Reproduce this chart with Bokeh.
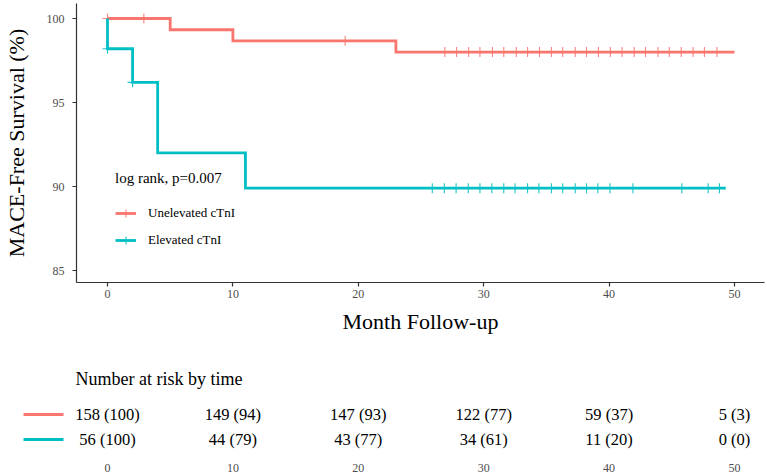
from bokeh.plotting import figure
from bokeh.models import Range1d, FixedTicker, Legend, LegendItem, Label
from bokeh.embed import file_html
from bokeh.resources import INLINE
from bokeh.core.properties import value

# ---------------- data ----------------
groups = ["Unelevated cTnI", "Elevated cTnI"]
colors = ["#F8766D", "#00BFC4"]

unelev_times = [0, 5, 10, 23, 50]
unelev_surv = [100.0, 99.33, 98.67, 98.0, 98.0]
elev_times = [0, 0, 2, 4, 11, 49.3]
elev_surv = [100.0, 98.2, 96.2, 92.0, 89.9, 89.9]

unelev_censor = [0, 2.9, 18.95, 26.9, 27.84, 28.8, 29.7, 30.7, 31.6, 32.6, 33.5,
                 34.45, 35.4, 36.3, 37.3, 38.2, 39.15, 40.1, 41.03, 42.0, 42.9,
                 43.9, 44.8, 45.75, 46.7, 47.6, 48.6]
elev_censor = [0, 2.0, 25.9, 26.86, 27.8, 28.77, 29.7, 30.65, 31.6, 32.5, 33.5,
               34.4, 35.4, 36.3, 37.3, 38.2, 39.1, 40.07, 41.9, 45.8, 47.9, 48.8]

risk_times = [0, 10, 20, 30, 40, 50]
unelev_risk = ["158 (100)", "149 (94)", "147 (93)", "122 (77)", "59 (37)", "5 (3)"]
elev_risk = ["56 (100)", "44 (79)", "43 (77)", "34 (61)", "11 (20)", "0 (0)"]

x_ticks = [0, 10, 20, 30, 40, 50]
y_ticks = [85, 90, 95, 100]
pvalue_text = "log rank, p=0.007"
risk_title = "Number at risk by time"
x_title = "Month Follow-up"
y_title = "MACE-Free Survival (%)"

# ---------------- layout helpers (page pixels) ----------------
FONT = "Liberation Serif"
PX_PER_MONTH = 12.54
X0_PAGE = 107.0      # page x of month 0


def xdata(page_x):
    return (page_x - X0_PAGE) / PX_PER_MONTH


def surv_at(times, surv, t):
    v = surv[0]
    for ti, si in zip(times, surv):
        if ti <= t:
            v = si
    return v


# ---------------- main KM plot ----------------
FRAME_L, FRAME_R = 76.0, 764.0
FRAME_T, FRAME_B = 3.0, 282.0
Y100_PAGE, PX_PER_UNIT = 18.0, 16.8
FIG_W = 767

p = figure(
    output_backend="svg", toolbar_location=None,
    frame_width=int(FRAME_R - FRAME_L), frame_height=int(FRAME_B - FRAME_T),
    min_border_left=int(FRAME_L), min_border_right=int(FIG_W - FRAME_R),
    min_border_top=int(FRAME_T), min_border_bottom=56,
    x_range=Range1d(xdata(FRAME_L), xdata(FRAME_R)),
    y_range=Range1d(100 - (FRAME_B - Y100_PAGE) / PX_PER_UNIT,
                    100 + (Y100_PAGE - FRAME_T) / PX_PER_UNIT),
)
p.outline_line_color = None
p.xgrid.visible = False
p.ygrid.visible = False
p.background_fill_color = "white"
p.border_fill_color = "white"

for ax, ticks in ((p.xaxis[0], x_ticks), (p.yaxis[0], y_ticks)):
    ax.ticker = FixedTicker(ticks=ticks)
    ax.axis_line_color = "#333333"
    ax.axis_line_width = 1.2
    ax.major_tick_line_color = "#333333"
    ax.major_tick_line_width = 1.2
    ax.major_tick_out = 4
    ax.major_tick_in = 0
    ax.minor_tick_line_color = None
    ax.major_label_text_font = FONT
    ax.major_label_text_font_size = "12px"
    ax.major_label_text_color = "#4D4D4D"
    ax.axis_label_text_font = FONT
    ax.axis_label_text_font_size = "22px"
    ax.axis_label_text_font_style = "normal"
    ax.axis_label_text_color = "black"

p.xaxis.axis_label = x_title
p.xaxis.major_label_standoff = 3
p.xaxis.axis_label_standoff = 8
p.yaxis.axis_label = y_title
p.yaxis.major_label_standoff = 8
p.yaxis.axis_label_standoff = 15

items = []
series = [
    (unelev_times, unelev_surv, unelev_censor),
    (elev_times, elev_surv, elev_censor),
]
for (times, surv, cens), name, col in zip(series, groups, colors):
    r_line = p.step(times, surv, mode="after", line_color=col, line_width=2.8,
                    line_join="miter")
    cy = [surv_at(times, surv, t) for t in cens]
    r_pts = p.scatter(cens, cy, marker="cross", size=10, line_color=col,
                      line_width=1.1, line_alpha=0.9)
    items.append(LegendItem(label=name, renderers=[r_line, r_pts]))

legend = Legend(
    items=items, location=(39, 32),
    title=pvalue_text, title_text_font=FONT, title_text_font_size="15px",
    title_text_font_style="normal", title_text_color="black", title_standoff=16,
    label_text_font=FONT, label_text_font_size="13px", label_text_color="black",
    glyph_width=21, glyph_height=20, label_standoff=12, spacing=7,
    padding=0, margin=0, border_line_color=None, background_fill_alpha=0,
)
p.add_layout(legend, "center")

# ---------------- risk table ----------------
R_FRAME_L = 15.0
R_TOP = 338.0
R_FRAME_H = 110.0
ROW1_PAGE, ROW_GAP = 414.0, 25.0
row1_fy = ROW1_PAGE - R_TOP
y_end = 1 + row1_fy / ROW_GAP
y_start = y_end - R_FRAME_H / ROW_GAP

t = figure(
    output_backend="svg", toolbar_location=None,
    frame_width=int(FRAME_R - R_FRAME_L), frame_height=int(R_FRAME_H),
    min_border_left=int(R_FRAME_L), min_border_right=int(FIG_W - FRAME_R),
    min_border_top=0, min_border_bottom=0,
    x_range=Range1d(xdata(R_FRAME_L), xdata(FRAME_R)),
    y_range=Range1d(y_start, y_end),
    y_axis_location=None,
)
t.outline_line_color = None
t.xgrid.visible = False
t.ygrid.visible = False
ax = t.xaxis[0]
ax.ticker = FixedTicker(ticks=x_ticks)
ax.axis_line_color = None
ax.major_tick_line_color = None
ax.minor_tick_line_color = None
ax.major_label_standoff = 9
ax.major_label_text_font = FONT
ax.major_label_text_font_size = "12px"
ax.major_label_text_color = "#4D4D4D"

row_y = [1, 0]
t.segment(x0=[xdata(23)] * 2, x1=[xdata(63)] * 2, y0=row_y, y1=row_y,
          line_color=colors, line_width=3)
for yy, texts in zip(row_y, (unelev_risk, elev_risk)):
    t.text(x=risk_times, y=[yy] * len(risk_times), text=texts,
           text_align="center", text_baseline="middle",
           text_font=value(FONT), text_font_size="16.5px", text_color="black")

title_y = y_end - (378.0 - R_TOP) / ROW_GAP
t.add_layout(Label(x=xdata(75), y=title_y, text=risk_title,
                   text_align="left", text_baseline="middle",
                   text_font=FONT, text_font_size="18px", text_color="black"))

open("out.html", "w").write(file_html([p, t], INLINE))
